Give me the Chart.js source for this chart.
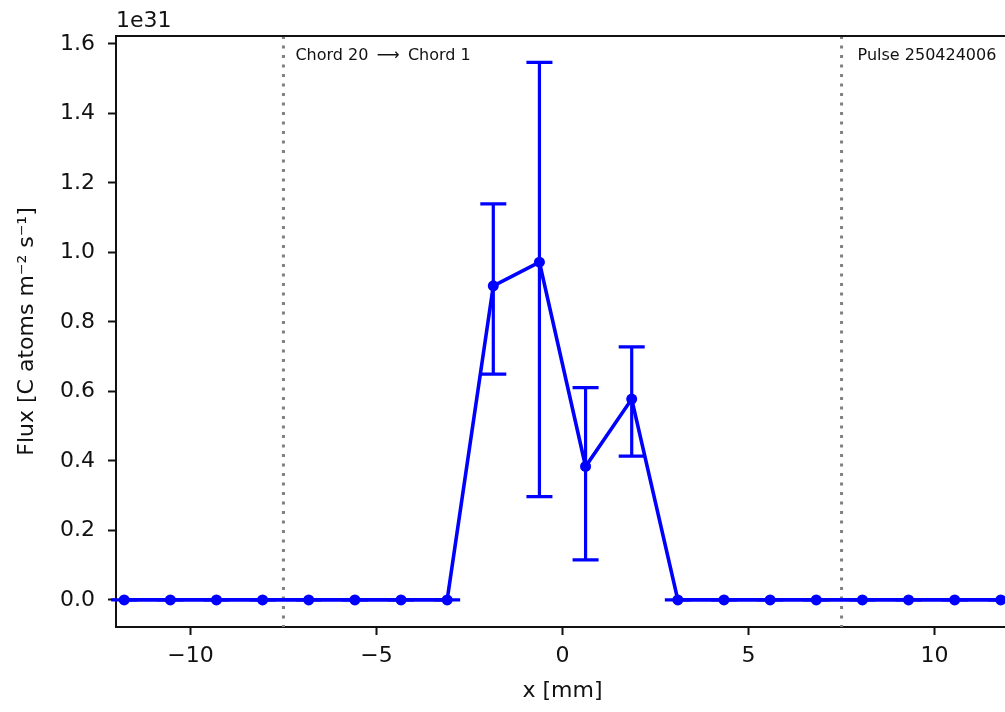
<!DOCTYPE html>
<html>
<head>
<meta charset="utf-8">
<script src="https://cdn.jsdelivr.net/npm/chart.js@4"></script>
<style>
  html, body { margin: 0; padding: 0; background: #fff; overflow: hidden; }
  #wrap { position: absolute; left: 0; top: 0; width: 1015px; height: 712px; }
</style>
</head>
<body>
<div id="wrap"><canvas id="fluxChart" width="1015" height="712"></canvas></div>
<script>
// chord positions (mm) and flux, in units of 1e31
const chordX = [-11.78, -10.54, -9.30, -8.06, -6.82, -5.58, -4.34, -3.10, -1.86, -0.62,
                0.62, 1.86, 3.10, 4.34, 5.58, 6.82, 8.06, 9.30, 10.54, 11.78];
const flux    = [0, 0, 0, 0, 0, 0, 0, 0, 0.904, 0.972, 0.384, 0.578, 0, 0, 0, 0, 0, 0, 0, 0];
const fluxLow = [0, 0, 0, 0, 0, 0, 0, 0, 0.650, 0.297, 0.115, 0.414, 0, 0, 0, 0, 0, 0, 0, 0];
const fluxHigh= [0, 0, 0, 0, 0, 0, 0, 0, 1.140, 1.547, 0.611, 0.728, 0, 0, 0, 0, 0, 0, 0, 0];
const xTicks = [-10, -5, 0, 5, 10];
const yTicks = [0, 0.2, 0.4, 0.6, 0.8, 1.0, 1.2, 1.4, 1.6];
const regionEdges = [-7.5, 7.5];

const FONT = "'DejaVu Sans', sans-serif";
const BLUE = '#0000ff';
const INK = '#111';

// error bars + caps, dotted markers, labels and frame
const decorations = {
    id: 'decorations',
    beforeDatasetsDraw(chart) {
        const { ctx, chartArea, scales: { x } } = chart;
        ctx.save();
        ctx.strokeStyle = '#808080';
        ctx.lineWidth = 3;
        ctx.setLineDash([3, 6.5]);
        regionEdges.forEach(v => {
            const px = x.getPixelForValue(v);
            ctx.beginPath();
            ctx.moveTo(px, chartArea.top);
            ctx.lineTo(px, chartArea.bottom);
            ctx.stroke();
        });
        ctx.restore();
    },
    afterDatasetsDraw(chart) {
        const { ctx, chartArea, scales: { x, y } } = chart;
        ctx.save();
        ctx.strokeStyle = BLUE;
        ctx.lineWidth = 3.2;
        chordX.forEach((cx, i) => {
            const px = x.getPixelForValue(cx);
            const top = y.getPixelForValue(fluxHigh[i]);
            const bot = y.getPixelForValue(fluxLow[i]);
            ctx.beginPath();
            ctx.moveTo(px, top);
            ctx.lineTo(px, bot);
            ctx.moveTo(px - 13, top);
            ctx.lineTo(px + 13, top);
            ctx.moveTo(px - 13, bot);
            ctx.lineTo(px + 13, bot);
            ctx.stroke();
        });

        ctx.fillStyle = INK;
        ctx.font = '16px ' + FONT;
        ctx.textBaseline = 'alphabetic';
        ctx.textAlign = 'left';
        ctx.fillText('Chord 20 \u2009\u27F6\u2009 Chord 1', x.getPixelForValue(regionEdges[0]) + 12, 60);
        ctx.fillText('Pulse 250424006', x.getPixelForValue(regionEdges[1]) + 16, 60);

        ctx.font = '22px ' + FONT;
        ctx.fillText('1e31', chartArea.left, 27);

        ctx.strokeStyle = INK;
        ctx.lineWidth = 2;
        ctx.beginPath();
        ctx.moveTo(chartArea.left - 1, chartArea.top);
        ctx.lineTo(chartArea.right + 1, chartArea.top);
        ctx.moveTo(chartArea.right, chartArea.top);
        ctx.lineTo(chartArea.right, chartArea.bottom);
        ctx.stroke();
        ctx.restore();
    }
};

new Chart(document.getElementById('fluxChart'), {
    type: 'scatter',
    data: {
        datasets: [{
            data: chordX.map((v, i) => ({ x: v, y: flux[i] })),
            showLine: true,
            borderColor: BLUE,
            borderWidth: 3.6,
            pointRadius: 5.5,
            pointBackgroundColor: BLUE,
            pointBorderWidth: 0,
            pointHoverRadius: 5.5
        }]
    },
    options: {
        responsive: false,
        animation: false,
        events: [],
        layout: { padding: { top: 36, right: 6, left: 0, bottom: 0 } },
        plugins: { legend: { display: false }, tooltip: { enabled: false } },
        scales: {
            x: {
                type: 'linear',
                min: -12,
                max: 12,
                afterBuildTicks: scale => { scale.ticks = xTicks.map(v => ({ value: v })); },
                afterFit: scale => { scale.height = 85; },
                ticks: {
                    color: INK,
                    font: { family: FONT, size: 22 },
                    padding: 8,
                    maxRotation: 0,
                    callback: v => (v < 0 ? '\u2212' + Math.abs(v) : String(v))
                },
                grid: { drawOnChartArea: false, tickLength: 8, tickColor: INK, tickWidth: 2 },
                border: { color: INK, width: 2 },
                title: {
                    display: true,
                    text: 'x [mm]',
                    color: INK,
                    font: { family: FONT, size: 22 },
                    padding: { top: 4, bottom: 8 }
                }
            },
            y: {
                min: -0.078,
                max: 1.623,
                afterBuildTicks: scale => { scale.ticks = yTicks.map(v => ({ value: v })); },
                afterFit: scale => { scale.width = 116; },
                ticks: {
                    color: INK,
                    font: { family: FONT, size: 22 },
                    padding: 13,
                    callback: v => v.toFixed(1)
                },
                grid: { drawOnChartArea: false, tickLength: 8, tickColor: INK, tickWidth: 2 },
                border: { color: INK, width: 2 },
                title: {
                    display: true,
                    text: 'Flux [C atoms m\u207B\u00B2 s\u207B\u00B9]',
                    color: INK,
                    font: { family: FONT, size: 22 },
                    padding: { top: 14, bottom: 0 }
                }
            }
        }
    },
    plugins: [decorations]
});
</script>
</body>
</html>
